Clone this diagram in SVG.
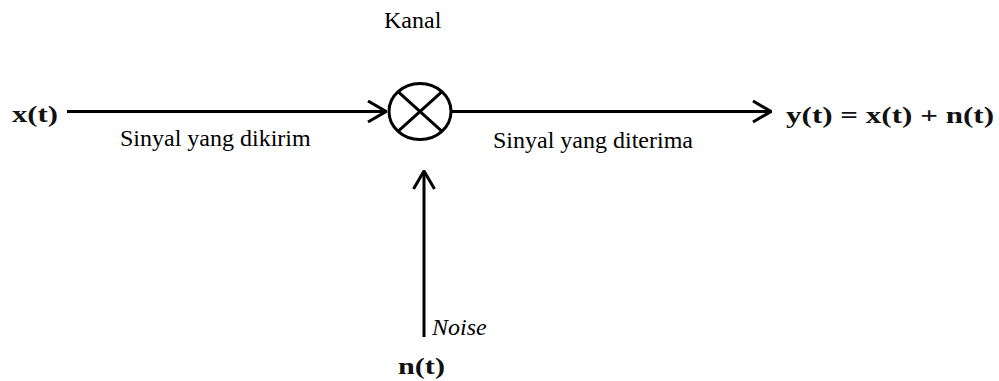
<svg xmlns="http://www.w3.org/2000/svg" width="999" height="381" viewBox="0 0 999 381">
  <style>
    text { font-family: "Liberation Serif", "Times New Roman", "DejaVu Serif", serif; }
    .lbl { font-size: 24px; fill: #000; }
    .it { font-style: italic; }
    .math { font-size: 23px; font-weight: bold; fill: #111; }
    .wire { stroke: #000; stroke-width: 3; fill: none; }
    .head { stroke: #000; stroke-width: 3; fill: none; stroke-linecap: butt; stroke-linejoin: miter; }
  </style>
  <defs>
    <marker id="open" viewBox="0 0 20 24" refX="19" refY="12" markerWidth="20" markerHeight="24" markerUnits="userSpaceOnUse" orient="auto">
      <path d="M1,1.5 L19,12 L1,22.5" class="head"/>
    </marker>
  </defs>

  <rect width="999" height="381" fill="#fff"/>

  <!-- channel label -->
  <g id="kanal">
    <text class="lbl" font-family="Liberation Serif, serif" x="384" y="28">Kanal</text>
  </g>

  <!-- transmitted signal source -->
  <g id="input">
    <text class="math" font-family="Liberation Serif, serif" x="12" y="122" textLength="46" lengthAdjust="spacingAndGlyphs">x(t)</text>
  </g>

  <!-- mixer: circle with cross -->
  <g id="mixer">
    <ellipse cx="420" cy="111.5" rx="31" ry="28" class="wire"/>
    <line x1="398" y1="91.7" x2="442" y2="131.3" class="wire"/>
    <line x1="442" y1="91.7" x2="398" y2="131.3" class="wire"/>
  </g>

  <!-- received signal output -->
  <g id="output">
    <text class="math" font-family="Liberation Serif, serif" x="786" y="123" textLength="208" lengthAdjust="spacingAndGlyphs">y(t) = x(t) + n(t)</text>
  </g>

  <!-- noise source -->
  <g id="noise">
    <text class="math" font-family="Liberation Serif, serif" x="398" y="374" textLength="47" lengthAdjust="spacingAndGlyphs">n(t)</text>
  </g>

  <!-- connectors -->
  <g id="connectors">
    <line x1="67" y1="111.5" x2="386" y2="111.5" class="wire" marker-end="url(#open)"/>
    <line x1="451" y1="111.5" x2="771" y2="111.5" class="wire" marker-end="url(#open)"/>
    <line x1="424" y1="337" x2="424" y2="171" class="wire" marker-end="url(#open)"/>
  </g>

  <!-- connector labels -->
  <g id="labels">
    <text class="lbl" font-family="Liberation Serif, serif" x="120" y="146">Sinyal yang dikirim</text>
    <text class="lbl" font-family="Liberation Serif, serif" x="493" y="148">Sinyal yang diterima</text>
    <text class="lbl it" font-family="Liberation Serif, serif" x="432" y="335">Noise</text>
  </g>
</svg>
